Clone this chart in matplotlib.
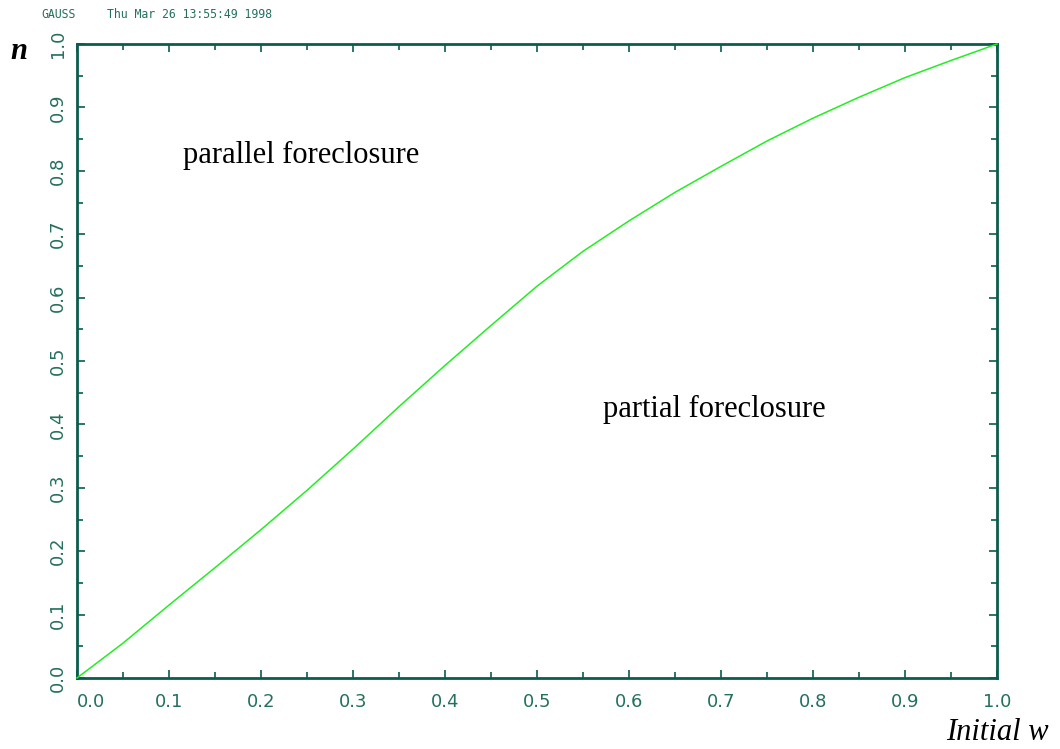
import matplotlib
matplotlib.use("Agg")
import matplotlib.pyplot as plt
from matplotlib.ticker import MultipleLocator

# Data
w = [0.00, 0.05, 0.10, 0.15, 0.20, 0.25, 0.30, 0.35, 0.40, 0.45, 0.50,
     0.55, 0.60, 0.65, 0.70, 0.75, 0.80, 0.85, 0.90, 0.95, 1.00]
n = [0.000, 0.055, 0.115, 0.174, 0.234, 0.296, 0.361, 0.428, 0.493, 0.556, 0.618,
     0.673, 0.721, 0.766, 0.807, 0.847, 0.883, 0.916, 0.947, 0.974, 1.000]
x_ticks = [0.0, 0.1, 0.2, 0.3, 0.4, 0.5, 0.6, 0.7, 0.8, 0.9, 1.0]
y_ticks = [0.0, 0.1, 0.2, 0.3, 0.4, 0.5, 0.6, 0.7, 0.8, 0.9, 1.0]
region_labels = ["parallel foreclosure", "partial foreclosure"]
header_left = "GAUSS"
header_right = "Thu Mar 26 13:55:49 1998"

W, H = 1060, 749
AX_COL = "#0b5c4e"
TXT_COL = "#24705f"

fig = plt.figure(figsize=(W / 100, H / 100), dpi=100)
fig.patch.set_facecolor("white")
ax = fig.add_axes([77 / W, 1 - 678 / H, (997 - 77) / W, (678 - 44) / H])

ax.plot(w, n, color="#22ee22", lw=1.1, clip_on=False, zorder=3)

ax.set_xlim(0, 1)
ax.set_ylim(0, 1)
ax.set_xticks(x_ticks)
ax.set_yticks(y_ticks)
ax.set_xticklabels([f"{v:.1f}" for v in x_ticks])
ax.set_yticklabels([f"{v:.1f}" for v in y_ticks])
ax.xaxis.set_minor_locator(MultipleLocator(0.05))
ax.yaxis.set_minor_locator(MultipleLocator(0.05))

for sp in ax.spines.values():
    sp.set_color(AX_COL)
    sp.set_linewidth(2.0)

ax.tick_params(which="both", direction="in", top=True, right=True,
               color=AX_COL, width=1.2)
ax.tick_params(which="major", length=6)
ax.tick_params(which="minor", length=4)
ax.tick_params(axis="x", which="major", pad=10.5, labelsize=13, labelcolor=TXT_COL)
ax.tick_params(axis="y", which="major", pad=7, labelsize=13, labelcolor=TXT_COL,
               labelrotation=90)

for lab in ax.get_xticklabels() + ax.get_yticklabels():
    lab.set_fontfamily("DejaVu Sans")
for lab in ax.get_yticklabels():
    lab.set_va("center")
ax.get_xticklabels()[0].set_ha("left")

# region annotations
ax.text(0.115, 0.812, region_labels[0], family="Liberation Serif", fontsize=22,
        va="baseline", ha="left", color="black")
ax.text(0.572, 0.412, region_labels[1], family="Liberation Serif", fontsize=22,
        va="baseline", ha="left", color="black")

# axis titles
fig.text(10 / W, 1 - 59 / H, "n", family="Liberation Serif", style="italic",
         fontweight="bold", fontsize=22, va="baseline", ha="left")
fig.text(946 / W, 9 / H, "Initial w", family="Liberation Serif", style="italic",
         fontsize=22, va="baseline", ha="left")

# header
fig.text(41 / W, 1 - 18 / H, header_left, family="DejaVu Sans Mono", fontsize=8.3,
         color=TXT_COL, va="baseline", ha="left")
fig.text(107 / W, 1 - 18 / H, header_right, family="DejaVu Sans Mono", fontsize=8.3,
         color=TXT_COL, va="baseline", ha="left")

fig.savefig("out.png", dpi=100, facecolor="white")
